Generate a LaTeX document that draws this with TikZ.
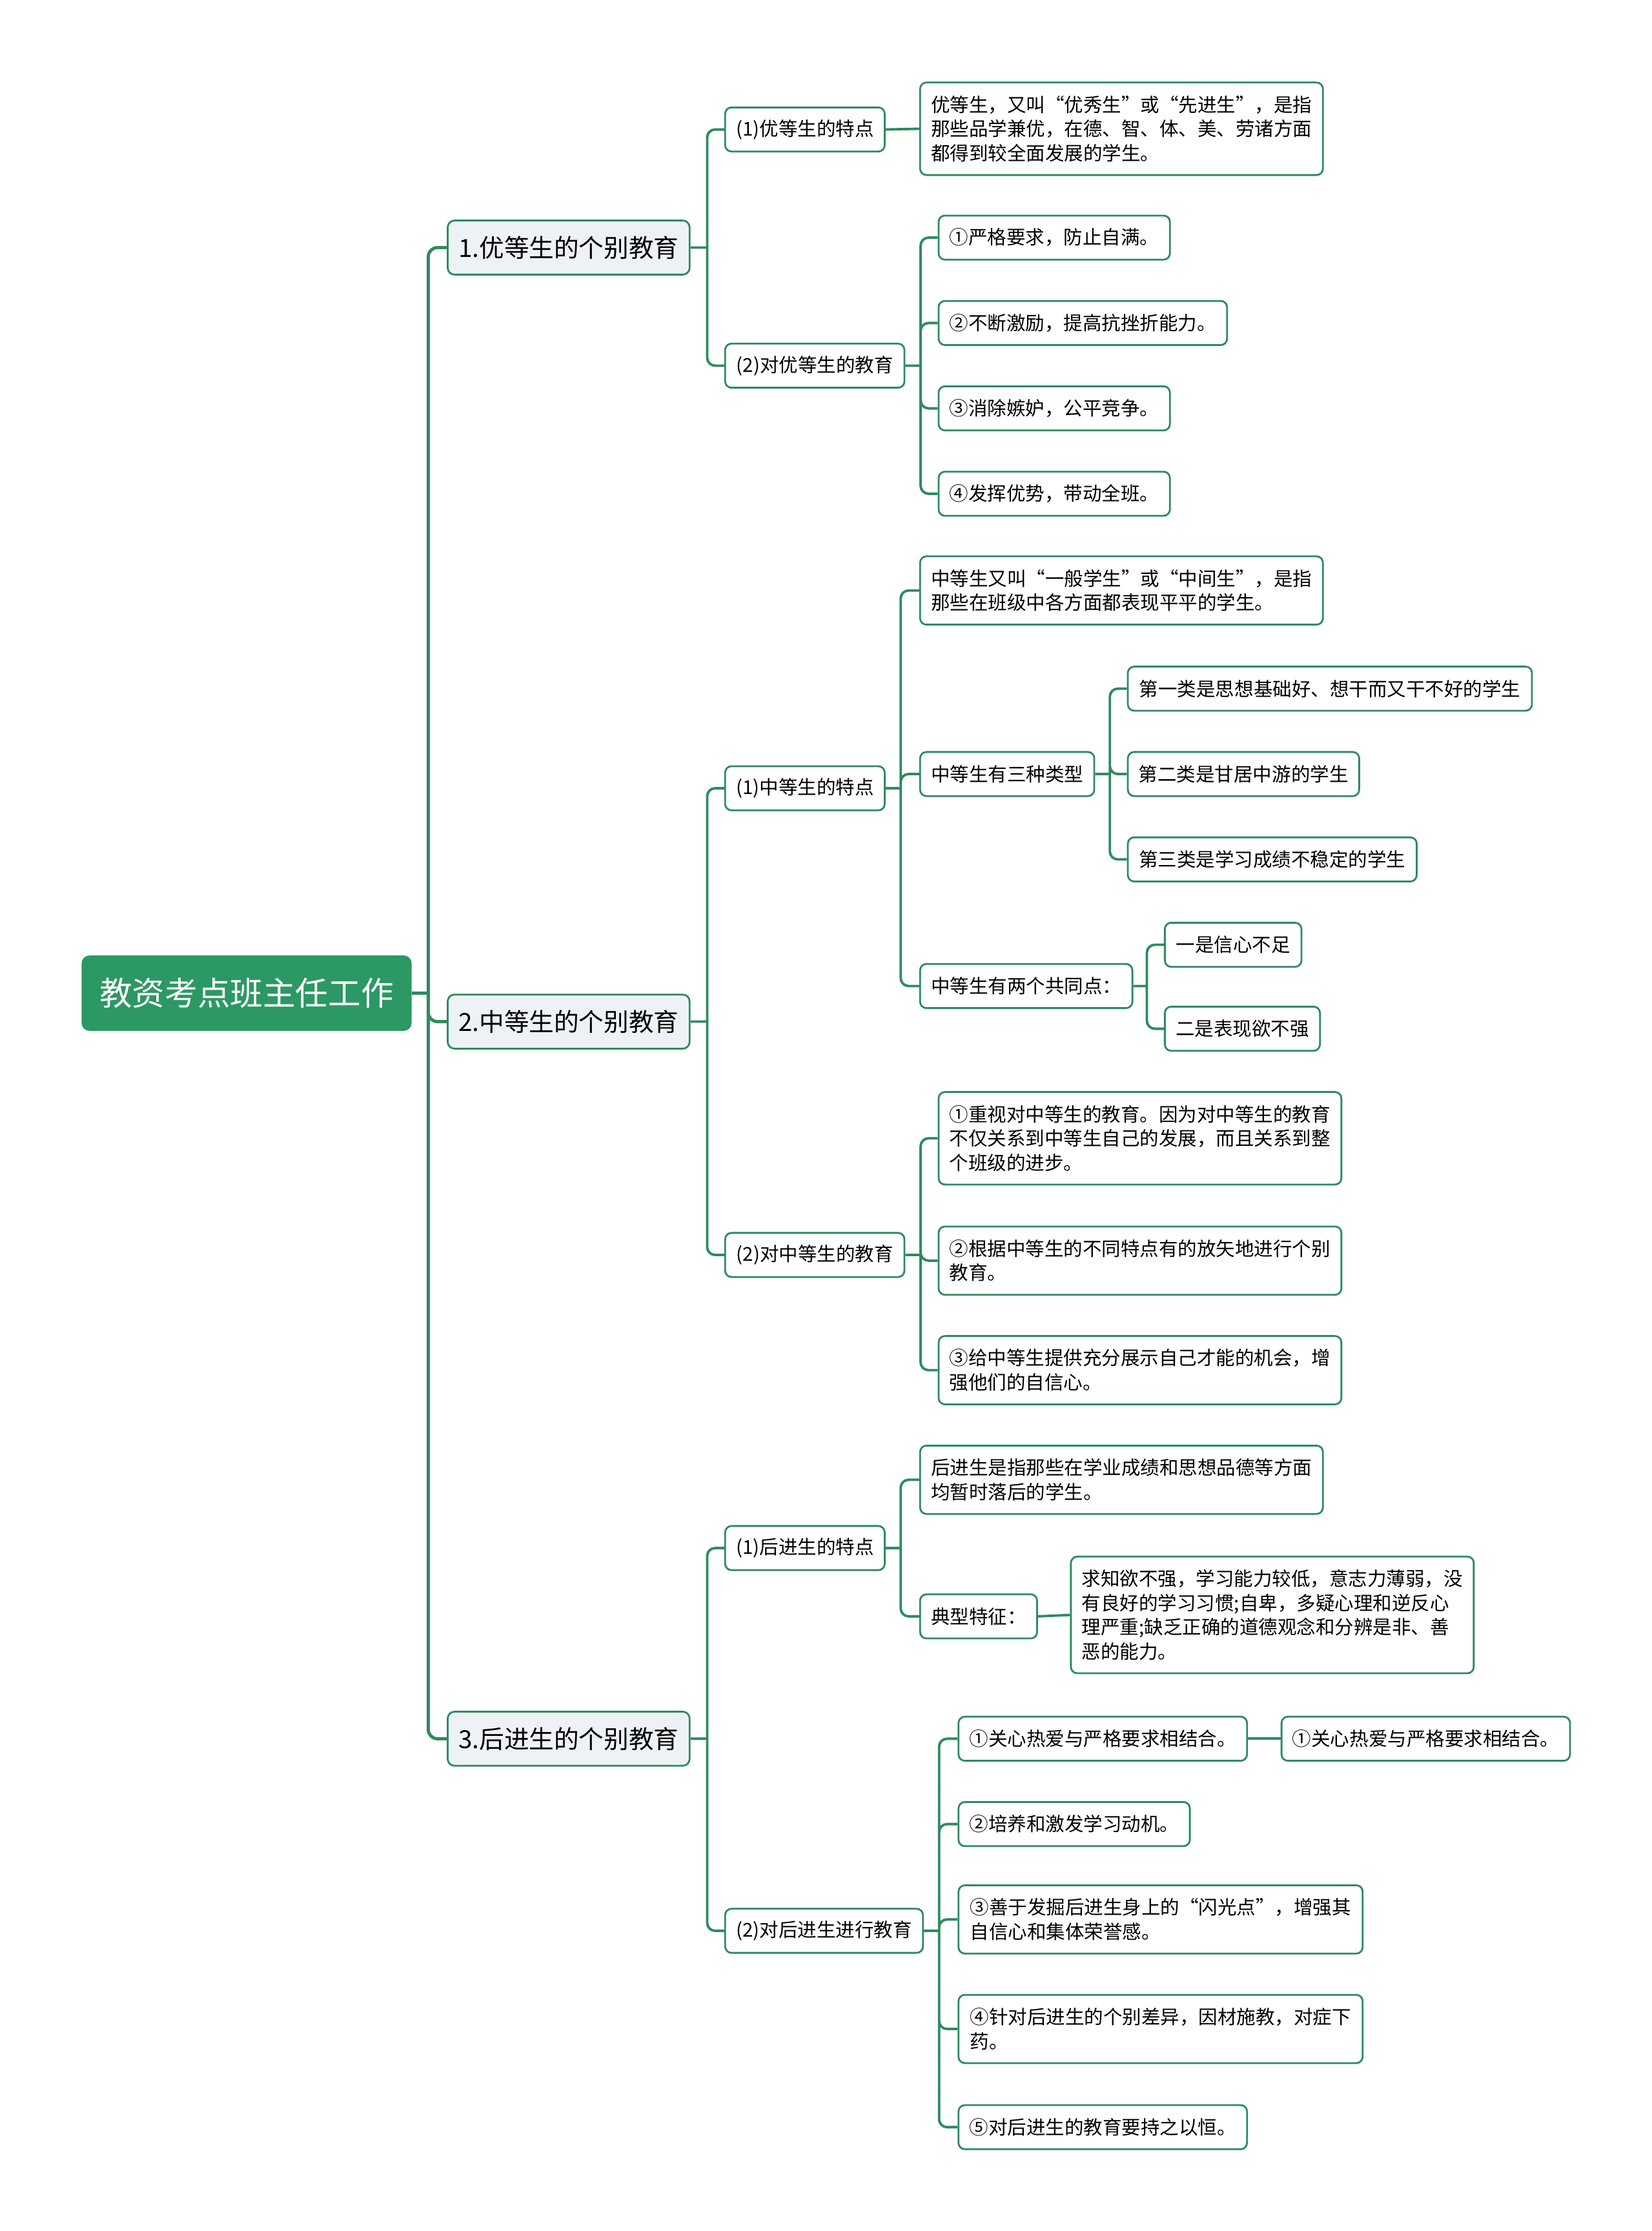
\documentclass[tikz,border=0pt]{standalone}
\usepackage{fontspec}
\setmainfont{Noto Sans CJK SC}
\usepackage{tikz}
\usetikzlibrary{positioning, calc}
\definecolor{rootgreen}{HTML}{2C9863}
\definecolor{linkgreen}{HTML}{2E8B5E}
\definecolor{topicfill}{HTML}{EEF2F6}
\tikzset{
  rootbox/.style={
    rounded corners=3.5pt, fill=rootgreen, draw=none, text=white,
    font=\fontsize{14.4pt}{17pt}\selectfont, anchor=west,
    minimum width=232*0.6274pt, minimum height=53*0.6274pt
  },
  topicbox/.style={
    rounded corners=3pt, fill=topicfill, draw=linkgreen, line width=0.8pt,
    font=\fontsize{11pt}{14pt}\selectfont, anchor=west,
    minimum width=170*0.6274pt, minimum height=38*0.6274pt, inner xsep=4pt
  },
  leafbox/.style={
    rounded corners=2.8pt, fill=white, draw=linkgreen, line width=0.8pt,
    font=\fontsize{8.4pt}{10.67pt}\selectfont, align=left, anchor=west,
    inner xsep=4.8pt, inner ysep=4.4pt, minimum height=19.45pt
  },
  bw/.style={minimum width=#1*0.6274pt},
  nlines/.style={minimum height=(#1*17+14)*0.6274pt},
  trunk/.style={draw=linkgreen, line width=1.4pt, rounded corners=4pt},
  link/.style={draw=linkgreen, line width=1.1pt, rounded corners=3.5pt}
}
\begin{document}
\begin{tikzpicture}[x=0.02205cm, y=-0.02205cm]
    \path[use as bounding box, fill=white] (0,0) rectangle (1161,1568);

    \node[rootbox] (main) at (57,698) {教资考点班主任工作};

    \node[topicbox] (good) at (314,174) {1.优等生的个别教育};
    \node[topicbox] (mid) at (314,718) {2.中等生的个别教育};
    \node[topicbox] (weak) at (314,1222) {3.后进生的个别教育};

    \node[leafbox, bw=112] (goodA) at (509,91) {(1)优等生的特点};
    \node[leafbox, bw=126] (goodB) at (509,257) {(2)对优等生的教育};
    \node[leafbox, bw=112] (midA) at (509,554) {(1)中等生的特点};
    \node[leafbox, bw=126] (midB) at (509,882) {(2)对中等生的教育};
    \node[leafbox, bw=112] (weakA) at (509,1088) {(1)后进生的特点};
    \node[leafbox, bw=139] (weakB) at (509,1357) {(2)对后进生进行教育};

    \node[leafbox, bw=283, nlines=3] (goodA1) at (646,90.5) {%
      优等生，又叫“优秀生”或“先进生”，是指\\
      那些品学兼优，在德、智、体、美、劳诸方面\\
      都得到较全面发展的学生。};
    \node[leafbox, bw=162] (goodB1) at (659,167) {①严格要求，防止自满。};
    \node[leafbox, bw=202] (goodB2) at (659,227) {②不断激励，提高抗挫折能力。};
    \node[leafbox, bw=162] (goodB3) at (659,287) {③消除嫉妒，公平竞争。};
    \node[leafbox, bw=162] (goodB4) at (659,347) {④发挥优势，带动全班。};

    \node[leafbox, bw=283, nlines=2] (midA1) at (646,415) {%
      中等生又叫“一般学生”或“中间生”，是指\\
      那些在班级中各方面都表现平平的学生。};
    \node[leafbox, bw=122] (midA2) at (646,544) {中等生有三种类型};
    \node[leafbox, bw=147] (midA3) at (646,693) {中等生有两个共同点：};
    \node[leafbox, bw=284] (type1) at (792,484) {第一类是思想基础好、想干而又干不好的学生};
    \node[leafbox, bw=162] (type2) at (792,544) {第二类是甘居中游的学生};
    \node[leafbox, bw=203] (type3) at (792,604) {第三类是学习成绩不稳定的学生};
    \node[leafbox, bw=96] (common1) at (818,664) {一是信心不足};
    \node[leafbox, bw=109] (common2) at (818,723) {二是表现欲不强};

    \node[leafbox, bw=283, nlines=3] (midB1) at (659,800) {%
      ①重视对中等生的教育。因为对中等生的教育\\
      不仅关系到中等生自己的发展，而且关系到整\\
      个班级的进步。};
    \node[leafbox, bw=283, nlines=2] (midB2) at (659,886) {%
      ②根据中等生的不同特点有的放矢地进行个别\\
      教育。};
    \node[leafbox, bw=283, nlines=2] (midB3) at (659,963) {%
      ③给中等生提供充分展示自己才能的机会，增\\
      强他们的自信心。};

    \node[leafbox, bw=283, nlines=2] (weakA1) at (646,1040) {%
      后进生是指那些在学业成绩和思想品德等方面\\
      均暂时落后的学生。};
    \node[leafbox, bw=81] (weakA2) at (646,1136) {典型特征：};
    \node[leafbox, bw=283, nlines=4] (trait) at (752,1135) {%
      求知欲不强，学习能力较低，意志力薄弱，没\\
      有良好的学习习惯;自卑，多疑心理和逆反心\\
      理严重;缺乏正确的道德观念和分辨是非、善\\
      恶的能力。};

    \node[leafbox, bw=201] (weakB1) at (673,1222) {①关心热爱与严格要求相结合。};
    \node[leafbox, bw=202] (weakB1a) at (900,1222) {①关心热爱与严格要求相结合。};
    \node[leafbox, bw=161] (weakB2) at (673,1282) {②培养和激发学习动机。};
    \node[leafbox, bw=284, nlines=2] (weakB3) at (673,1349) {%
      ③善于发掘后进生身上的“闪光点”，增强其\\
      自信心和集体荣誉感。};
    \node[leafbox, bw=284, nlines=2] (weakB4) at (673,1426) {%
      ④针对后进生的个别差异，因材施教，对症下\\
      药。};
    \node[leafbox, bw=201] (weakB5) at (673,1495) {⑤对后进生的教育要持之以恒。};

    \coordinate (sMain) at (301,698);
    \coordinate (sGood) at (497,174);
    \coordinate (sMid) at (497,718);
    \coordinate (sWeak) at (497,1222);
    \coordinate (sGoodB) at (647,257);
    \coordinate (sMidA) at (633,554);
    \coordinate (sMidB) at (647,882);
    \coordinate (sType) at (780,544);
    \coordinate (sCommon) at (806,693);
    \coordinate (sWeakA) at (633,1088);
    \coordinate (sWeakB) at (660,1357);

    \draw[trunk] (main.east) -- (sMain);
    \draw[trunk] (sMain) |- (good.west) (sMain) |- (mid.west) (sMain) |- (weak.west);

    \draw[link] (good.east) -- (sGood) (sGood) |- (goodA.west) (sGood) |- (goodB.west);
    \draw[link] (mid.east) -- (sMid) (sMid) |- (midA.west) (sMid) |- (midB.west);
    \draw[link] (weak.east) -- (sWeak) (sWeak) |- (weakA.west) (sWeak) |- (weakB.west);

    \draw[link] (goodA.east) -- (goodA1.west);
    \draw[link] (goodB.east) -- (sGoodB) (sGoodB) |- (goodB1.west) (sGoodB) |- (goodB2.west)
      (sGoodB) |- (goodB3.west) (sGoodB) |- (goodB4.west);

    \draw[link] (midA.east) -- (sMidA) (sMidA) |- (midA1.west) (sMidA) |- (midA2.west)
      (sMidA) |- (midA3.west);
    \draw[link] (midA2.east) -- (sType) (sType) |- (type1.west) (sType) |- (type2.west)
      (sType) |- (type3.west);
    \draw[link] (midA3.east) -- (sCommon) (sCommon) |- (common1.west) (sCommon) |- (common2.west);
    \draw[link] (midB.east) -- (sMidB) (sMidB) |- (midB1.west) (sMidB) |- (midB2.west)
      (sMidB) |- (midB3.west);

    \draw[link] (weakA.east) -- (sWeakA) (sWeakA) |- (weakA1.west) (sWeakA) |- (weakA2.west);
    \draw[link] (weakA2.east) -- (trait.west);
    \draw[link] (weakB.east) -- (sWeakB) (sWeakB) |- (weakB1.west) (sWeakB) |- (weakB2.west)
      (sWeakB) |- (weakB3.west) (sWeakB) |- (weakB4.west) (sWeakB) |- (weakB5.west);
    \draw[link] (weakB1.east) -- (weakB1a.west);
  \end{tikzpicture}
\end{document}
